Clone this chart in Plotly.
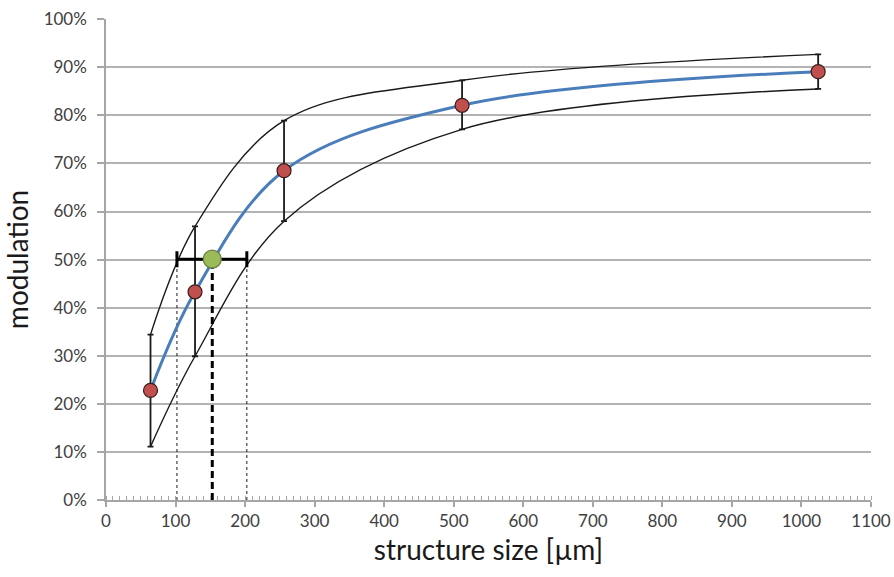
import plotly.graph_objects as go

# data
sizes = [64, 128, 256, 512, 1024]
modulation = [0.228, 0.433, 0.685, 0.821, 0.891]
upper = [0.344, 0.569, 0.789, 0.873, 0.927]
lower = [0.111, 0.299, 0.580, 0.771, 0.855]

res_x = [152.8]
res_y = [0.501]
res_lo = [102.0]
res_hi = [202.5]

x_ticks = [0, 100, 200, 300, 400, 500, 600, 700, 800, 900, 1000, 1100]
y_ticks = [0, 0.1, 0.2, 0.3, 0.4, 0.5, 0.6, 0.7, 0.8, 0.9, 1.0]

FONT = "Lato"

fig = go.Figure()

# envelope curves
fig.add_trace(go.Scatter(x=sizes, y=upper, mode="lines",
                         line=dict(color="#1a1a1a", width=1.4, shape="spline", smoothing=1.0),
                         hoverinfo="skip", showlegend=False))
fig.add_trace(go.Scatter(x=sizes, y=lower, mode="lines",
                         line=dict(color="#1a1a1a", width=1.4, shape="spline", smoothing=1.0),
                         hoverinfo="skip", showlegend=False))

# dotted verticals at resolution bounds
for xv in (res_lo[0], res_hi[0]):
    fig.add_trace(go.Scatter(x=[xv, xv], y=[0, res_y[0]], mode="lines",
                             line=dict(color="#1a1a1a", width=1, dash="dot"),
                             hoverinfo="skip", showlegend=False))
# dashed vertical at resolution
fig.add_trace(go.Scatter(x=[res_x[0], res_x[0]], y=[0, res_y[0]], mode="lines",
                         line=dict(color="#000000", width=3, dash="7px,4px"),
                         hoverinfo="skip", showlegend=False))

# blue fitted curve
fig.add_trace(go.Scatter(x=sizes, y=modulation, mode="lines",
                         line=dict(color="#4a7ebb", width=3, shape="spline", smoothing=1.0),
                         hoverinfo="skip", showlegend=False))

# data points with error bars
fig.add_trace(go.Scatter(
    x=sizes, y=modulation, mode="markers",
    marker=dict(size=14, color="#c0504d", line=dict(color="#3a1a1a", width=1.2)),
    error_y=dict(type="data", symmetric=False,
                 array=[u - m for u, m in zip(upper, modulation)],
                 arrayminus=[m - l for m, l in zip(modulation, lower)],
                 color="#1a1a1a", thickness=1.8, width=3),
    showlegend=False))

# resolution point with horizontal bar
fig.add_trace(go.Scatter(
    x=res_x, y=res_y, mode="markers",
    marker=dict(size=18, color="#9bbb59", line=dict(color="#6b7f45", width=1.2)),
    error_x=dict(type="data", symmetric=False,
                 array=[res_hi[0] - res_x[0]],
                 arrayminus=[res_x[0] - res_lo[0]],
                 color="#000000", thickness=3, width=8),
    showlegend=False))

fig.update_layout(
    width=894, height=577,
    margin=dict(l=106, r=23, t=19, b=77),
    paper_bgcolor="white", plot_bgcolor="white",
    font=dict(family=FONT, color="#404040"),
    xaxis=dict(range=[0, 1100], tickvals=x_ticks, showgrid=False, automargin=False,
               showline=True, linecolor="#a6a6a6", linewidth=1.5,
               ticks="outside", ticklen=5, tickcolor="#a6a6a6", tickwidth=1.5,
               tickfont=dict(size=17, family=FONT, color="#404040"),
               minor=dict(dtick=10, ticks="inside", ticklen=4, tickcolor="#a6a6a6", tickwidth=1, showgrid=False),
               title=dict(text="structure size [µm]", font=dict(size=28, family=FONT, color="#1a1a1a"), standoff=10),
               zeroline=False),
    yaxis=dict(range=[0, 1.0005], tickvals=y_ticks, tickformat=".0%", automargin=False,
               showgrid=True, gridcolor="#b3b3b3", gridwidth=1.5,
               showline=True, linecolor="#a6a6a6", linewidth=1.5,
               ticks="outside", ticklen=7, tickcolor="#a6a6a6", tickwidth=1.5,
               ticklabelstandoff=7,
               tickfont=dict(size=17, family=FONT, color="#404040"),
               title=dict(text="modulation", font=dict(size=28, family=FONT, color="#1a1a1a"), standoff=12),
               zeroline=False),
)

fig.write_html("out.html",
               config={"displayModeBar": False},
               post_script="document.body.style.margin='0';document.body.style.overflow='hidden';")
